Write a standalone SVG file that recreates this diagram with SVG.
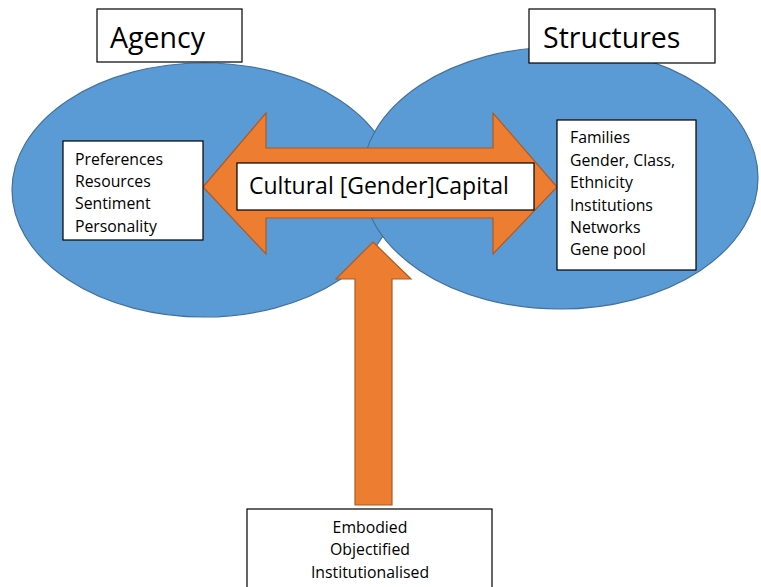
<svg xmlns="http://www.w3.org/2000/svg" width="761" height="587" viewBox="0 0 761 587">
<style>
.ell{fill:#5B9BD5;stroke:#41719C;stroke-width:1.2}
.arr{fill:#ED7D31;stroke:#AE5A21;stroke-width:1.2}
.box{fill:#fff;stroke:#000;stroke-width:1.2}
text{font-family:"Open Sans","Liberation Sans",sans-serif;fill:#000}
.big{font-size:28.5px}
.mid{font-size:23px}
.sm{font-size:15.8px}
</style>
<rect width="761" height="587" fill="#fff"/>
<g id="agency-ellipse"><ellipse class="ell" cx="204" cy="190" rx="192" ry="127"/></g>
<g id="structures-ellipse"><ellipse class="ell" cx="560" cy="178" rx="198" ry="131"/></g>
<g id="connectors">
<polygon id="double-arrow" class="arr" points="203,187 266,113 266,148 493,148 493,113 557,187 493,254 493,218 266,218 266,254"/>
<polygon id="up-arrow" class="arr" points="373,242 411,279 392,279 392,505 355,505 355,279 336,279"/>
</g>
<g id="agency-label"><rect class="box" x="97" y="9" width="145" height="53"/><text class="big" x="110" y="48">Agency</text></g>
<g id="structures-label"><rect class="box" x="529" y="9" width="186" height="54"/><text class="big" x="543" y="48">Structures</text></g>
<g id="agency-list"><rect class="box" x="63" y="141" width="140" height="99"/>
<text class="sm" x="75" y="165">Preferences</text>
<text class="sm" x="75" y="187">Resources</text>
<text class="sm" x="75" y="209">Sentiment</text>
<text class="sm" x="75" y="232">Personality</text></g>
<g id="structures-list"><rect class="box" x="557" y="120" width="139" height="150"/>
<text class="sm" x="570" y="143">Families</text>
<text class="sm" x="570" y="166">Gender, Class,</text>
<text class="sm" x="570" y="188">Ethnicity</text>
<text class="sm" x="570" y="211">Institutions</text>
<text class="sm" x="570" y="233">Networks</text>
<text class="sm" x="570" y="255">Gene pool</text></g>
<g id="capital-label"><rect class="box" x="237" y="163" width="297" height="47"/><text class="mid" x="249" y="194">Cultural [Gender]Capital</text></g>
<g id="forms-box"><rect class="box" x="247" y="509" width="245" height="90"/>
<text class="sm" x="370" y="533" text-anchor="middle">Embodied</text>
<text class="sm" x="370" y="555" text-anchor="middle">Objectified</text>
<text class="sm" x="370" y="578" text-anchor="middle">Institutionalised</text></g>
</svg>
